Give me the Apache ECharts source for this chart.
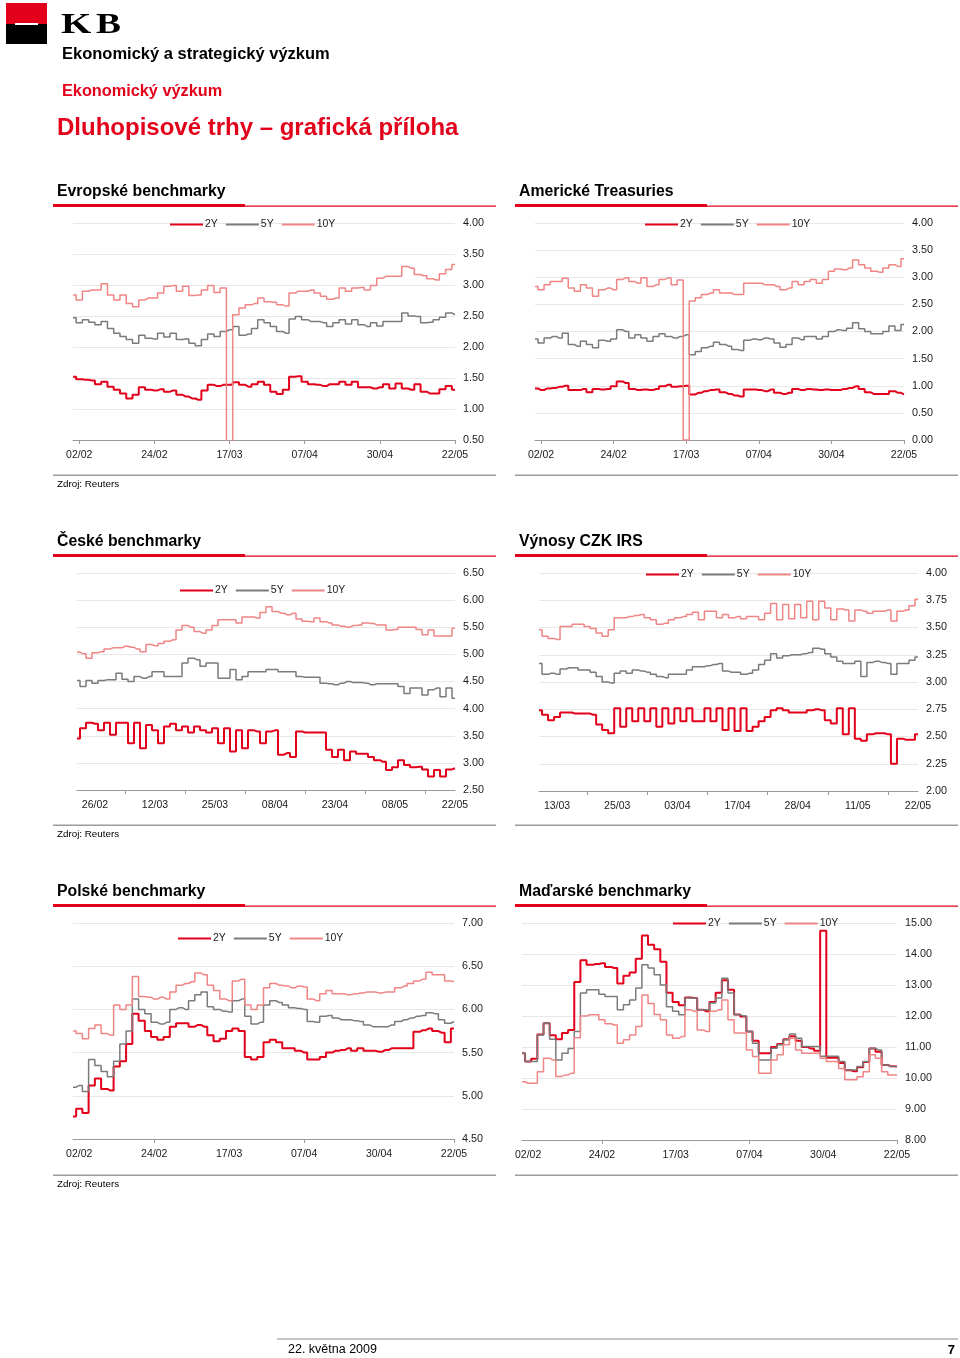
<!DOCTYPE html>
<html><head><meta charset="utf-8">
<script src="https://cdn.jsdelivr.net/npm/echarts@6/dist/echarts.min.js"></script>
<style>html,body{margin:0;padding:0;background:#fff}#c{width:960px;height:1358px}</style>
</head><body><div id="c"></div>
<script>
// ---------- data ----------
const seriesNames = ['2Y', '5Y', '10Y'];
const mainDates = ['02/02', '24/02', '17/03', '07/04', '30/04', '22/05'];
const czDates = ['26/02', '12/03', '25/03', '08/04', '23/04', '08/05', '22/05'];
const irsDates = ['13/03', '25/03', '03/04', '17/04', '28/04', '11/05', '22/05'];

// Evropské benchmarky
const eu2Y = [1.52,1.48,1.47,1.46,1.40,1.44,1.36,1.31,1.25,1.17, 1.23,1.35,1.31,1.30,1.32,1.28,1.30,1.23,1.20,1.17, 1.15,1.30,1.39,1.37,1.39,1.39,1.43,1.39,1.36,1.40, 1.44,1.39,1.28,1.24,1.31,1.52,1.53,1.44,1.40,1.39, 1.37,1.40,1.40,1.44,1.39,1.44,1.35,1.35,1.33,1.35, 1.40,1.33,1.41,1.33,1.31,1.40,1.28,1.25,1.25,1.32, 1.37,1.31];
const eu5Y = [2.47,2.39,2.44,2.40,2.36,2.41,2.30,2.22,2.17,2.12, 2.06,2.19,2.14,2.13,2.22,2.16,2.22,2.12,2.13,2.06, 2.02,2.12,2.21,2.17,2.25,2.28,2.33,2.19,2.21,2.30, 2.44,2.39,2.33,2.25,2.22,2.45,2.49,2.44,2.41,2.41, 2.39,2.33,2.39,2.44,2.37,2.44,2.36,2.33,2.39,2.34, 2.41,2.41,2.41,2.55,2.50,2.49,2.39,2.40,2.44,2.48, 2.55,2.52];
const eu10Y = [2.84,2.76,2.90,2.92,2.92,3.02,2.84,2.76,2.84,2.70, 2.65,2.76,2.79,2.79,2.87,2.98,2.99,2.90,2.98,2.83, 2.84,2.92,2.99,2.88,2.95,0,2.52,2.63,2.68,2.70, 2.79,2.73,2.72,2.68,2.66,2.87,2.90,2.90,2.92,2.87, 2.82,2.77,2.79,2.95,2.90,2.95,2.96,2.92,2.99,3.11, 3.14,3.14,3.14,3.30,3.27,3.17,3.15,3.10,3.08,3.18, 3.25,3.33];

// Americké Treasuries
const us2Y = [0.95,0.92,0.95,0.96,0.98,1.00,0.92,0.92,0.94,0.88, 0.94,0.93,0.94,0.99,1.08,1.05,0.94,0.92,0.93,0.92, 0.94,0.99,1.02,0.98,0.99,1.00,0.84,0.87,0.90,0.92, 0.93,0.88,0.85,0.82,0.80,0.93,0.93,0.92,0.90,0.93, 0.87,0.85,0.87,0.94,0.92,0.94,0.93,0.92,0.93,0.92, 0.92,0.94,0.96,0.99,0.94,0.88,0.85,0.85,0.85,0.90, 0.87,0.84];
const us5Y = [1.86,1.79,1.88,1.91,1.88,1.97,1.76,1.73,1.82,1.76, 1.70,1.84,1.82,1.86,2.03,2.00,1.88,1.94,1.88,1.82, 1.91,1.96,1.91,1.88,1.91,1.94,1.57,1.63,1.70,1.73, 1.80,1.76,1.73,1.67,1.65,1.84,1.86,1.85,1.88,1.86, 1.79,1.71,1.76,1.88,1.85,1.91,1.91,1.86,1.91,2.00, 2.03,2.02,2.06,2.16,2.05,2.00,1.96,1.96,2.00,2.10, 2.02,2.13];
const us10Y = [2.83,2.77,2.86,2.92,2.92,2.98,2.80,2.74,2.86,2.80, 2.65,2.77,2.80,2.77,2.96,2.99,2.92,2.89,2.99,2.83, 2.86,2.96,2.99,2.86,2.95,0,2.56,2.62,2.68,2.71, 2.77,2.71,2.71,2.68,2.68,2.89,2.89,2.89,2.86,2.86, 2.83,2.77,2.80,2.92,2.86,2.92,2.96,2.89,2.96,3.11, 3.15,3.14,3.17,3.32,3.23,3.17,3.11,3.09,3.17,3.23, 3.20,3.34];

// České benchmarky
const cz2Y = [3.45,3.64,3.74,3.72,3.60,3.74,3.52,3.74,3.74,3.36, 3.74,3.27,3.70,3.60,3.36,3.67,3.72,3.60,3.67,3.56, 3.67,3.60,3.56,3.64,3.36,3.64,3.21,3.60,3.27,3.60, 3.58,3.36,3.58,3.60,3.15,3.18,3.11,3.58,3.56,3.56, 3.56,3.56,3.24,3.11,3.24,3.05,3.21,3.17,3.17,3.11, 3.05,3.02,2.87,2.92,3.05,2.96,2.92,2.93,2.88,2.75, 2.87,2.75,2.88,2.90];
const cz5Y = [4.52,4.41,4.52,4.47,4.52,4.53,4.53,4.65,4.54,4.50, 4.59,4.56,4.59,4.68,4.68,4.59,4.59,4.59,4.84,4.93, 4.90,4.78,4.84,4.84,4.56,4.56,4.72,4.53,4.59,4.68, 4.68,4.68,4.72,4.72,4.68,4.68,4.68,4.59,4.58,4.58, 4.58,4.47,4.46,4.44,4.47,4.50,4.48,4.48,4.47,4.44, 4.46,4.46,4.46,4.46,4.41,4.28,4.38,4.38,4.25,4.35, 4.38,4.22,4.38,4.19];
const cz10Y = [5.04,5.01,4.93,5.03,5.05,5.10,5.12,5.12,5.15,5.13, 5.10,5.05,5.18,5.16,5.20,5.24,5.27,5.45,5.53,5.50, 5.42,5.39,5.45,5.53,5.64,5.64,5.64,5.58,5.69,5.69, 5.67,5.77,5.88,5.79,5.76,5.73,5.76,5.65,5.61,5.60, 5.67,5.60,5.58,5.54,5.52,5.50,5.53,5.54,5.58,5.57, 5.54,5.54,5.45,5.46,5.50,5.50,5.50,5.46,5.36,5.45, 5.34,5.34,5.34,5.48];

// Výnosy CZK IRS
const irs2Y = [2.74,2.70,2.65,2.68,2.72,2.72,2.71,2.71,2.71,2.70, 2.61,2.56,2.53,2.76,2.59,2.76,2.64,2.76,2.64,2.76, 2.59,2.76,2.62,2.76,2.64,2.76,2.64,2.64,2.76,2.64, 2.76,2.56,2.76,2.55,2.76,2.55,2.59,2.64,2.68,2.74, 2.76,2.74,2.72,2.72,2.72,2.74,2.75,2.74,2.65,2.62, 2.76,2.52,2.76,2.48,2.46,2.52,2.53,2.53,2.52,2.25, 2.48,2.47,2.47,2.52];
const irs5Y = [3.17,3.07,3.08,3.07,3.12,3.13,3.13,3.11,3.11,3.09, 3.05,3.00,2.99,3.08,3.10,3.08,3.11,3.10,3.09,3.07, 3.05,3.04,3.07,3.07,3.07,3.11,3.14,3.14,3.15,3.16, 3.17,3.10,3.09,3.09,3.07,3.08,3.11,3.16,3.20,3.26, 3.22,3.24,3.25,3.25,3.26,3.27,3.31,3.30,3.26,3.23, 3.19,3.17,3.17,3.19,3.05,3.18,3.19,3.18,3.17,3.07, 3.17,3.17,3.20,3.23];
const irs10Y = [3.48,3.42,3.40,3.39,3.51,3.51,3.53,3.53,3.51,3.49, 3.45,3.42,3.48,3.59,3.59,3.60,3.61,3.62,3.59,3.57, 3.53,3.54,3.57,3.59,3.60,3.62,3.64,3.57,3.65,3.65, 3.59,3.62,3.59,3.60,3.58,3.60,3.60,3.57,3.63,3.72, 3.57,3.71,3.58,3.71,3.59,3.74,3.57,3.74,3.68,3.57, 3.67,3.66,3.56,3.66,3.65,3.63,3.65,3.65,3.66,3.56, 3.65,3.66,3.70,3.76];

// Polské benchmarky
const pl2Y = [4.76,4.85,4.80,5.12,5.20,5.08,5.06,5.34,5.40,5.60, 5.95,5.87,5.75,5.68,5.65,5.68,5.80,5.84,5.84,5.80, 5.82,5.80,5.70,5.63,5.66,5.75,5.78,5.75,5.45,5.42, 5.45,5.62,5.65,5.62,5.55,5.55,5.52,5.50,5.42,5.42, 5.45,5.50,5.52,5.53,5.55,5.52,5.55,5.52,5.52,5.51, 5.53,5.55,5.55,5.55,5.55,5.74,5.76,5.78,5.75,5.73, 5.62,5.78];
const pl5Y = [5.10,5.12,5.05,5.42,5.35,5.28,5.22,5.40,5.60,5.75, 6.12,6.00,5.95,5.85,5.83,5.85,6.00,6.02,6.00,6.10, 6.17,6.20,6.03,6.00,5.98,5.97,6.10,6.12,5.92,5.83, 5.85,6.05,6.10,6.08,6.05,6.02,6.01,6.00,5.86,5.85, 5.92,5.93,5.90,5.88,5.88,5.87,5.86,5.82,5.80,5.80, 5.80,5.82,5.86,5.88,5.90,5.92,5.93,5.96,5.95,5.88, 5.84,5.86];
const pl10Y = [5.75,5.72,5.66,5.78,5.82,5.72,5.70,6.05,6.00,6.05, 6.38,6.15,6.14,6.12,6.14,6.12,6.20,6.28,6.30,6.32, 6.42,6.40,6.28,6.22,6.12,6.10,6.33,6.35,6.05,6.00, 6.05,6.25,6.30,6.28,6.27,6.25,6.27,6.26,6.12,6.10, 6.18,6.22,6.18,6.18,6.17,6.18,6.19,6.20,6.20,6.19, 6.20,6.20,6.25,6.27,6.30,6.33,6.35,6.43,6.40,6.40, 6.33,6.32];

// Maďarské benchmarky
const hu2Y = [10.80,10.53,10.62,11.40,11.77,11.38,11.25,11.45,11.55,13.10, 13.80,13.65,13.68,13.70,13.58,13.55,13.05,13.30,13.40,13.85, 14.60,14.30,14.15,13.75,12.75,12.45,12.35,12.60,12.58,12.20, 12.15,12.45,12.75,13.15,12.85,12.05,11.98,11.50,11.20,10.80, 10.80,11.00,11.10,11.25,11.35,11.20,11.00,10.95,10.88,14.75, 10.65,10.65,10.48,10.25,10.22,10.35,10.52,10.95,10.85,10.42, 10.38,10.37];
const hu5Y = [10.80,10.53,10.53,11.39,11.77,11.25,10.58,10.80,10.95,11.50, 12.74,12.85,12.85,12.70,12.63,12.63,12.20,12.36,12.52,12.90, 13.65,13.55,13.33,13.00,12.30,12.15,12.04,12.58,12.58,12.20, 12.20,12.42,12.58,13.22,12.74,12.04,12.00,11.50,11.12,10.58, 10.58,10.96,11.07,11.23,11.42,11.28,11.02,11.02,11.02,10.70, 10.70,10.70,10.53,10.26,10.26,10.37,10.53,10.96,10.90,10.42, 10.37,10.37];
const hu10Y = [9.88,9.83,9.83,10.20,10.64,10.58,10.05,10.10,10.15,11.30, 12.00,12.04,12.04,11.88,11.75,11.71,11.12,11.23,11.39,11.66, 12.68,12.40,12.05,11.88,11.39,11.28,11.34,12.20,12.15,11.55, 11.50,12.15,12.20,12.52,11.88,11.45,11.45,10.90,10.69,10.15, 10.15,10.58,10.75,11.07,11.28,10.90,10.80,10.80,10.80,10.64, 10.53,10.53,10.31,9.94,9.94,10.04,10.20,10.75,10.64,10.20, 10.10,10.10];

// ---------- layout / style ----------
const FONT = '"Liberation Sans", Arial, Helvetica, sans-serif';
const RED = '#e2001a', GREY = '#7b7b7b', PINK = '#f08585';
const seriesColors = [RED, GREY, PINK];
const seriesWidths = [2, 1.5, 1.5];
const mainLabelIdx = [1, 13, 25, 37, 49, 61];
const halfTickIdx = [13, 37, 61];
const czLabelIdx = [3, 13, 23, 33, 43, 53, 63];
const czTickIdx = [8, 18, 28, 38, 48, 58];

const panels = [
  {title: 'Evropské benchmarky', col: 0, row: 0, grid: {left: 73, top: 223, width: 382, height: 217},
   y: [0.5, 4, 0.5], data: [eu2Y, eu5Y, eu10Y], ticks: mainDates, labelIdx: mainLabelIdx, tickIdx: mainLabelIdx, legend: {left: 170, top: 219}},
  {title: 'Americké Treasuries', col: 1, row: 0, grid: {left: 535, top: 223, width: 369, height: 217},
   y: [0, 4, 0.5], data: [us2Y, us5Y, us10Y], ticks: mainDates, labelIdx: mainLabelIdx, tickIdx: mainLabelIdx, legend: {left: 645, top: 219}},
  {title: 'České benchmarky', col: 0, row: 1, grid: {left: 77, top: 573, width: 378, height: 217},
   y: [2.5, 6.5, 0.5], data: [cz2Y, cz5Y, cz10Y], ticks: czDates, labelIdx: czLabelIdx, tickIdx: czTickIdx, legend: {left: 180, top: 585}},
  {title: 'Výnosy CZK IRS', col: 1, row: 1, grid: {left: 539, top: 573, width: 379, height: 218},
   y: [2, 4, 0.25], data: [irs2Y, irs5Y, irs10Y], ticks: irsDates, labelIdx: czLabelIdx, tickIdx: czTickIdx, legend: {left: 646, top: 569}},
  {title: 'Polské benchmarky', col: 0, row: 2, grid: {left: 73, top: 923, width: 381, height: 216},
   y: [4.5, 7, 0.5], data: [pl2Y, pl5Y, pl10Y], ticks: mainDates, labelIdx: mainLabelIdx, tickIdx: halfTickIdx, legend: {left: 178, top: 933}},
  {title: 'Maďarské benchmarky', col: 1, row: 2, grid: {left: 522, top: 923, width: 375, height: 217},
   y: [8, 15, 1], data: [hu2Y, hu5Y, hu10Y], ticks: mainDates, labelIdx: mainLabelIdx, tickIdx: halfTickIdx, legend: {left: 673, top: 918}}
];

const colX = [53, 515];
const rowTitleY = [192, 542, 892];
const rowRedY = [204, 554, 904];
const rowGreyY = [474.5, 824.5, 1174.5];
const rowSrcY = [484, 834, 1184];

const option = {animation: false, backgroundColor: '#ffffff', grid: [], xAxis: [], yAxis: [], series: [], legend: [], graphic: []};

panels.forEach((p, pi) => {
  const n = p.data[0].length;
  const labelMap = {};
  p.labelIdx.forEach((idx, k) => { labelMap[idx] = p.ticks[k]; });
  const labelSet = new Set(p.labelIdx), tickSet = new Set(p.tickIdx);
  option.grid.push(Object.assign({containLabel: false}, p.grid));
  option.xAxis.push({
    type: 'category', gridIndex: pi, boundaryGap: false,
    data: Array.from({length: n}, (_, i) => String(i)),
    axisLine: {lineStyle: {color: '#9a9a9a', width: 1}},
    axisTick: {show: true, length: 4, interval: (i) => tickSet.has(i), lineStyle: {color: '#9a9a9a'}},
    axisLabel: {interval: (i) => labelSet.has(i), formatter: (v, i) => labelMap[i] || '',
      fontSize: 10.5, color: '#1a1a1a', fontFamily: FONT, margin: 10},
    splitLine: {show: false}
  });
  option.yAxis.push({
    type: 'value', gridIndex: pi, position: 'right', min: p.y[0], max: p.y[1], interval: p.y[2],
    axisLine: {show: false}, axisTick: {show: false},
    axisLabel: {formatter: (v) => v.toFixed(2), fontSize: 10.8, color: '#1a1a1a', fontFamily: FONT, margin: 8},
    splitLine: {lineStyle: {color: '#e8e8e8', width: 1}}
  });
  p.data.forEach((arr, k) => {
    option.series.push({
      type: 'line', name: seriesNames[k], xAxisIndex: pi, yAxisIndex: pi, data: arr,
      step: 'middle', showSymbol: false, symbol: 'none', clip: true,
      lineStyle: {color: seriesColors[k], width: seriesWidths[k]},
      itemStyle: {color: seriesColors[k]}, z: 3 + k
    });
  });
  option.legend.push({
    left: p.legend.left, top: p.legend.top, padding: 0, orient: 'horizontal', data: seriesNames,
    icon: 'rect', itemWidth: 33, itemHeight: 2, itemGap: 8, selectedMode: false,
    textStyle: {fontSize: 10.5, color: '#1a1a1a', fontFamily: FONT, padding: [0, 0, 0, -3]}
  });
  const x0 = colX[p.col];
  const g = option.graphic;
  g.push({type: 'text', x: x0 + 4, y: rowTitleY[p.row], style: {text: p.title, font: 'bold 15.8px ' + FONT, fill: '#000', verticalAlign: 'middle'}});
  g.push({type: 'rect', shape: {x: x0, y: rowRedY[p.row], width: 192, height: 3}, style: {fill: RED}});
  g.push({type: 'rect', shape: {x: x0 + 192, y: rowRedY[p.row] + 1.5, width: 251, height: 1.2}, style: {fill: RED}});
  g.push({type: 'rect', shape: {x: x0, y: rowGreyY[p.row], width: 443, height: 1.5}, style: {fill: '#9c9c9c'}});
  if (p.col === 0) {
    g.push({type: 'text', x: 57, y: rowSrcY[p.row], style: {text: 'Zdroj: Reuters', font: '9.8px ' + FONT, fill: '#000', verticalAlign: 'middle'}});
  }
});

// header & footer
option.graphic.push(
  {type: 'rect', shape: {x: 6, y: 3, width: 41, height: 21}, style: {fill: '#e2001a'}},
  {type: 'rect', shape: {x: 6, y: 24, width: 41, height: 20}, style: {fill: '#000'}},
  {type: 'rect', shape: {x: 15, y: 23, width: 23, height: 2}, style: {fill: '#fff'}},
  {type: 'text', x: 61, y: 25, scaleX: 1.3, style: {text: 'K', font: 'bold 30px "Liberation Serif", "DejaVu Serif", serif', fill: '#000', verticalAlign: 'middle'}},
  {type: 'text', x: 96, y: 25, scaleX: 1.25, style: {text: 'B', font: 'bold 30px "Liberation Serif", "DejaVu Serif", serif', fill: '#000', verticalAlign: 'middle'}},
  {type: 'text', x: 62, y: 54, style: {text: 'Ekonomický a strategický výzkum', font: 'bold 16.5px ' + FONT, fill: '#000', verticalAlign: 'middle'}},
  {type: 'text', x: 62, y: 92, style: {text: 'Ekonomický výzkum', font: 'bold 16.3px ' + FONT, fill: RED, verticalAlign: 'middle'}},
  {type: 'text', x: 57, y: 128, style: {text: 'Dluhopisové trhy – grafická příloha', font: 'bold 24px ' + FONT, fill: RED, verticalAlign: 'middle'}},
  {type: 'rect', shape: {x: 277, y: 1338.5, width: 681, height: 1}, style: {fill: '#8c8c8c'}},
  {type: 'text', x: 288, y: 1350, style: {text: '22. května 2009', font: '12.5px ' + FONT, fill: '#000', verticalAlign: 'middle'}},
  {type: 'text', x: 955, y: 1350, style: {text: '7', font: 'bold 13px ' + FONT, fill: '#000', verticalAlign: 'middle', align: 'right'}}
);

const chart = echarts.init(document.getElementById('c'), null, {renderer: 'canvas', width: 960, height: 1358});
chart.setOption(option);
</script></body></html>
